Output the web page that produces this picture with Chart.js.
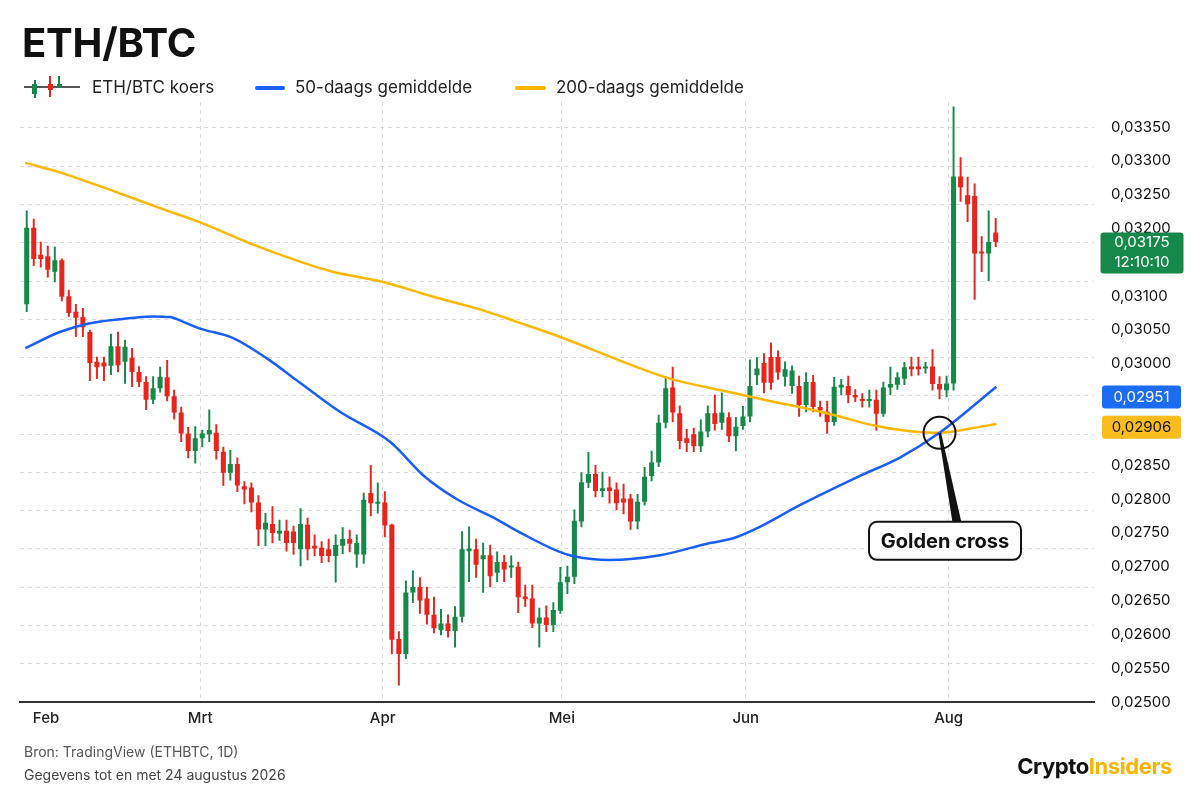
<!DOCTYPE html>
<html>
<head>
<meta charset="utf-8">
<script src="https://cdn.jsdelivr.net/npm/chart.js@4.4.1/dist/chart.umd.min.js"></script>
<style>
html,body{margin:0;padding:0;background:#fff;}
body{width:1200px;height:800px;position:relative;overflow:hidden;font-family:Inter,"Noto Sans",sans-serif;}
#c{position:absolute;left:0;top:0;}
.t{position:absolute;white-space:nowrap;line-height:1;}
.sw{position:absolute;}
</style>
</head>
<body>
<canvas id="c" width="1200" height="800"></canvas>

<div class="t" style="left:22px;top:23px;font-size:40px;font-weight:700;color:#111;letter-spacing:-0.2px;">ETH/BTC</div>

<!-- legend -->
<div class="sw" style="left:24px;top:86px;width:56px;height:2px;background:#555;"></div>
<div class="sw" style="left:34px;top:80px;width:1.5px;height:18px;background:#16894a;"></div>
<div class="sw" style="left:32.3px;top:84px;width:5px;height:10px;background:#16894a;"></div>
<div class="sw" style="left:49.3px;top:76px;width:1.5px;height:21px;background:#e8241c;"></div>
<div class="sw" style="left:47.5px;top:84px;width:5px;height:6px;background:#e8241c;"></div>
<div class="sw" style="left:58.3px;top:76px;width:1.5px;height:11px;background:#16894a;"></div>
<div class="sw" style="left:56.5px;top:84px;width:5px;height:4px;background:#16894a;"></div>
<div class="t" style="left:92px;top:79px;font-size:17px;color:#222;">ETH/BTC koers</div>
<div class="sw" style="left:255px;top:86px;width:30px;height:4px;border-radius:2px;background:#1a5ef5;"></div>
<div class="t" style="left:295px;top:79px;font-size:17px;color:#222;">50-daags gemiddelde</div>
<div class="sw" style="left:515px;top:86px;width:31px;height:4px;border-radius:2px;background:#fbb800;"></div>
<div class="t" style="left:556px;top:79px;font-size:17px;color:#222;">200-daags gemiddelde</div>

<!-- footer -->
<div class="t" style="left:24px;top:745px;font-size:14px;color:#555;">Bron: TradingView (ETHBTC, 1D)</div>
<div class="t" style="left:24px;top:768px;font-size:14px;color:#444;">Gegevens tot en met 24 augustus 2026</div>
<div class="t" style="right:28px;top:755px;font-size:22px;font-weight:700;letter-spacing:-0.4px;color:#111;">Crypto<span style="color:#f7b500;">Insiders</span></div>

<script>
// ---- data ----
const candleOpen  = [0.03088,0.03201,0.03161,0.03159,0.03136,0.03153,0.03100,0.03077,0.03069,0.03047,
0.03003,0.03002,0.02997,0.03026,0.03003,0.03009,0.02988,0.02973,0.02947,0.02964,
0.02980,0.02952,0.02928,0.02897,0.02871,0.02890,0.02896,0.02898,0.02870,0.02839,
0.02852,0.02819,0.02817,0.02795,0.02755,0.02763,0.02749,0.02753,0.02752,0.02726,
0.02762,0.02731,0.02728,0.02726,0.02716,0.02731,0.02741,0.02718,0.02718,0.02809,
0.02793,0.02795,0.02762,0.02593,0.02571,0.02662,0.02670,0.02653,0.02629,0.02606,
0.02616,0.02605,0.02626,0.02723,0.02726,0.02711,0.02717,0.02691,0.02707,0.02699,
0.02700,0.02656,0.02653,0.02616,0.02625,0.02614,0.02635,0.02677,0.02685,0.02767,
0.02824,0.02837,0.02812,0.02817,0.02814,0.02801,0.02801,0.02767,0.02796,0.02834,
0.02854,0.02913,0.02965,0.02927,0.02890,0.02896,0.02878,0.02900,0.02927,0.02913,
0.02921,0.02893,0.02908,0.02922,0.02983,0.03001,0.03010,0.03010,0.02981,0.02967,
0.02967,0.02939,0.02973,0.02936,0.02929,0.02914,0.02965,0.02967,0.02954,0.02948,
0.02945,0.02947,0.02926,0.02965,0.02969,0.02978,0.02996,0.02996,0.02993,0.02996,
0.02970,0.02961,0.02971,0.03277,0.03249,0.03248,0.03166,0.03163,0.03194];
const candleHigh  = [0.03226,0.03214,0.03180,0.03174,0.03173,0.03155,0.03109,0.03088,0.03082,0.03050,
0.03010,0.03010,0.03044,0.03047,0.03035,0.03023,0.02996,0.02981,0.02981,0.02995,
0.03005,0.02961,0.02936,0.02906,0.02907,0.02902,0.02932,0.02910,0.02877,0.02872,
0.02861,0.02826,0.02824,0.02805,0.02779,0.02789,0.02769,0.02769,0.02760,0.02786,
0.02772,0.02747,0.02737,0.02741,0.02747,0.02758,0.02754,0.02747,0.02809,0.02850,
0.02824,0.02811,0.02763,0.02604,0.02679,0.02694,0.02684,0.02670,0.02655,0.02637,
0.02629,0.02641,0.02752,0.02759,0.02741,0.02735,0.02732,0.02722,0.02717,0.02716,
0.02707,0.02673,0.02673,0.02639,0.02642,0.02647,0.02699,0.02701,0.02784,0.02839,
0.02869,0.02850,0.02840,0.02833,0.02824,0.02822,0.02807,0.02807,0.02847,0.02871,
0.02924,0.02981,0.02995,0.02938,0.02903,0.02905,0.02917,0.02938,0.02954,0.02957,
0.02928,0.02921,0.02937,0.03006,0.03009,0.03015,0.03031,0.03019,0.03003,0.02997,
0.02982,0.02987,0.02983,0.02945,0.02945,0.02980,0.02977,0.02982,0.02962,0.02956,
0.02961,0.02961,0.02973,0.02995,0.02987,0.03002,0.03010,0.03010,0.03002,0.03021,
0.02981,0.02982,0.03380,0.03305,0.03276,0.03266,0.03188,0.03226,0.03215];
const candleLow   = [0.03077,0.03145,0.03143,0.03128,0.03121,0.03093,0.03070,0.03040,0.03040,0.02975,
0.02978,0.02975,0.02984,0.02988,0.02971,0.02966,0.02966,0.02932,0.02941,0.02958,
0.02945,0.02918,0.02885,0.02861,0.02853,0.02877,0.02885,0.02859,0.02820,0.02828,
0.02811,0.02793,0.02781,0.02731,0.02731,0.02735,0.02739,0.02723,0.02718,0.02701,
0.02710,0.02716,0.02706,0.02707,0.02677,0.02719,0.02722,0.02699,0.02705,0.02775,
0.02779,0.02744,0.02571,0.02525,0.02564,0.02647,0.02631,0.02615,0.02602,0.02599,
0.02596,0.02581,0.02618,0.02678,0.02684,0.02662,0.02670,0.02678,0.02678,0.02684,
0.02632,0.02641,0.02610,0.02581,0.02604,0.02604,0.02631,0.02660,0.02675,0.02759,
0.02817,0.02803,0.02803,0.02794,0.02784,0.02778,0.02755,0.02756,0.02791,0.02827,
0.02848,0.02905,0.02914,0.02874,0.02870,0.02870,0.02870,0.02892,0.02902,0.02903,
0.02885,0.02871,0.02903,0.02914,0.02969,0.02957,0.02962,0.02977,0.02967,0.02956,
0.02922,0.02929,0.02929,0.02922,0.02897,0.02909,0.02954,0.02942,0.02944,0.02936,
0.02936,0.02902,0.02922,0.02954,0.02962,0.02969,0.02982,0.02983,0.02986,0.02961,
0.02948,0.02951,0.02961,0.03240,0.03210,0.03095,0.03136,0.03123,0.03173];
const candleClose = [0.03201,0.03155,0.03155,0.03139,0.03153,0.03099,0.03075,0.03068,0.03054,0.03001,
0.02995,0.02996,0.03026,0.02998,0.03025,0.02988,0.02973,0.02947,0.02964,0.02981,
0.02952,0.02928,0.02897,0.02871,0.02890,0.02897,0.02902,0.02871,0.02839,0.02852,
0.02820,0.02814,0.02795,0.02755,0.02765,0.02750,0.02753,0.02735,0.02735,0.02763,
0.02726,0.02727,0.02716,0.02716,0.02732,0.02741,0.02734,0.02735,0.02799,0.02794,
0.02796,0.02761,0.02592,0.02571,0.02662,0.02670,0.02650,0.02629,0.02609,0.02616,
0.02605,0.02626,0.02726,0.02727,0.02703,0.02717,0.02686,0.02707,0.02696,0.02701,
0.02655,0.02652,0.02616,0.02625,0.02614,0.02636,0.02677,0.02685,0.02768,0.02825,
0.02837,0.02812,0.02816,0.02812,0.02794,0.02795,0.02767,0.02796,0.02833,0.02854,
0.02913,0.02964,0.02928,0.02886,0.02883,0.02878,0.02900,0.02927,0.02911,0.02928,
0.02893,0.02907,0.02922,0.02967,0.02993,0.02972,0.02972,0.02987,0.02992,0.02990,
0.02939,0.02973,0.02936,0.02931,0.02914,0.02966,0.02969,0.02954,0.02950,0.02945,
0.02948,0.02926,0.02965,0.02970,0.02980,0.02995,0.02992,0.02992,0.02996,0.02970,
0.02962,0.02971,0.03277,0.03261,0.03236,0.03163,0.03163,0.03180,0.03180];

const ma50X  = [-0.2,4.7,9.0,13.3,18.0,20.4,22.3,24.7,29.4,34.2,38.4,44.6,51.7,56.7,61.4,66.2,70.9,75.2,78.1,83.0,90.2,97.3,100.6,104.4,110.1,118.6,124.3,130.0,138.1];
const ma50Y  = [0.03023,0.03047,0.03060,0.03066,0.03070,0.03069,0.03062,0.03052,0.03038,0.03008,0.02976,0.02929,0.02885,0.02833,0.02799,0.02774,0.02747,0.02725,0.02715,0.02710,0.02717,0.02735,0.02742,0.02759,0.02791,0.02834,0.02861,0.02898,0.02966];
const ma200X = [-0.2,4.7,11.9,19.0,24.7,31.8,38.9,43.6,50.8,57.9,65.0,69.8,75.9,85.4,91.6,99.7,106.3,111.0,115.8,120.5,125.3,130.0,134.8,138.1];
const ma200Y = [0.03297,0.03283,0.03257,0.03230,0.03209,0.03178,0.03151,0.03136,0.03121,0.03099,0.03079,0.03062,0.03040,0.03001,0.02978,0.02959,0.02944,0.02934,0.02922,0.02909,0.02901,0.02898,0.02905,0.02911];

const xTickLabels = ['Feb','Mrt','Apr','Mei','Jun','Aug'];
const xTickPos    = [2.75,24.7,50.7,76.2,102.4,131.3];

const priceTagValues = [0.03175, 0.02951, 0.02906];
const priceTagLines  = [['0,03175','12:10:10'], ['0,02951'], ['0,02906']];

const goldenCrossX = 130.0;
const goldenCrossY = 0.02898;
const goldenCrossLabel = 'Golden cross';

// ---- styles ----
const GREEN = '#16894a', RED = '#e8241c';
const BLUE = '#1a5ef5', YELLOW = '#fbb800';
const GRID = '#d9d9d9';
const tagStyles = [
  {bg:'#16894a', fg:'#ffffff'},
  {bg:'#1b6cf2', fg:'#ffffff'},
  {bg:'#fbbd1e', fg:'#111111'}
];

Chart.defaults.font.family = 'Inter, "Noto Sans", sans-serif';

const idx = candleOpen.map((_, i) => i);
const candleColors = idx.map(i => candleClose[i] >= candleOpen[i] ? GREEN : RED);

function rrect(ctx, x, y, w, h, r) {
  ctx.beginPath();
  ctx.moveTo(x + r, y);
  ctx.lineTo(x + w - r, y);
  ctx.arcTo(x + w, y, x + w, y + r, r);
  ctx.lineTo(x + w, y + h - r);
  ctx.arcTo(x + w, y + h, x + w - r, y + h, r);
  ctx.lineTo(x + r, y + h);
  ctx.arcTo(x, y + h, x, y + h - r, r);
  ctx.lineTo(x, y + r);
  ctx.arcTo(x, y, x + r, y, r);
  ctx.closePath();
}

const overlay = {
  id: 'overlay',
  afterDatasetsDraw(chart) {
    const {ctx, scales: {x, y}} = chart;
    const cx = x.getPixelForValue(goldenCrossX);
    const cy = y.getPixelForValue(goldenCrossY);
    ctx.save();
    ctx.fillStyle = '#111';
    ctx.beginPath();
    ctx.moveTo(cx - 1, cy + 1);
    ctx.lineTo(cx + 1.5, cy);
    ctx.lineTo(cx + 22, cy + 90);
    ctx.lineTo(cx + 13, cy + 90);
    ctx.closePath();
    ctx.fill();
    ctx.lineWidth = 2;
    ctx.strokeStyle = '#111';
    ctx.beginPath();
    ctx.arc(cx, cy, 16, 0, Math.PI * 2);
    ctx.stroke();
    rrect(ctx, cx - 70.5, cy + 89, 152, 38, 8);
    ctx.fillStyle = '#fff';
    ctx.fill();
    ctx.stroke();
    ctx.fillStyle = '#111';
    ctx.font = '700 20px Inter, "Noto Sans", sans-serif';
    ctx.textAlign = 'center';
    ctx.textBaseline = 'middle';
    ctx.fillText(goldenCrossLabel, cx + 5.5, cy + 109);
    ctx.restore();
  },
  afterDraw(chart) {
    const {ctx, scales: {y}} = chart;
    ctx.save();
    ctx.font = '15px Inter, "Noto Sans", sans-serif';
    ctx.textAlign = 'center';
    ctx.textBaseline = 'middle';
    priceTagValues.forEach((v, i) => {
      const py = y.getPixelForValue(v);
      const lines = priceTagLines[i];
      const st = tagStyles[i];
      if (lines.length > 1) {
        rrect(ctx, 1100.5, py - 13, 83, 41, 3);
        ctx.fillStyle = st.bg; ctx.fill();
        ctx.fillStyle = st.fg;
        ctx.fillText(lines[0], 1142, py - 2.5);
        ctx.fillText(lines[1], 1142, py + 17.5);
      } else {
        rrect(ctx, 1102, py - 11.5, 79, 23, 3);
        ctx.fillStyle = st.bg; ctx.fill();
        ctx.fillStyle = st.fg;
        ctx.fillText(lines[0], 1141.5, py + 0.5);
      }
    });
    ctx.restore();
  }
};

new Chart(document.getElementById('c'), {
  type: 'bar',
  data: {
    datasets: [
      {
        type: 'line', label: '50-daags gemiddelde',
        data: ma50X.map((xv, i) => ({x: xv, y: ma50Y[i]})),
        borderColor: BLUE, borderWidth: 2.5, pointRadius: 0,
        cubicInterpolationMode: 'monotone', order: 0, xAxisID: 'x', yAxisID: 'y'
      },
      {
        type: 'line', label: '200-daags gemiddelde',
        data: ma200X.map((xv, i) => ({x: xv, y: ma200Y[i]})),
        borderColor: YELLOW, borderWidth: 2.5, pointRadius: 0,
        cubicInterpolationMode: 'monotone', order: 1, xAxisID: 'x', yAxisID: 'y'
      },
      {
        type: 'bar', label: 'ETH/BTC koers',
        data: idx.map(i => ({x: i, y: [candleOpen[i], candleClose[i]]})),
        backgroundColor: candleColors, borderWidth: 0,
        barPercentage: 0.72, categoryPercentage: 1, grouped: false,
        minBarLength: 2, order: 2, xAxisID: 'x', yAxisID: 'y'
      },
      {
        type: 'bar', label: 'wick',
        data: idx.map(i => ({x: i, y: [candleLow[i], candleHigh[i]]})),
        backgroundColor: candleColors, borderWidth: 0,
        barThickness: 1.3, grouped: false, order: 3, xAxisID: 'x', yAxisID: 'y'
      }
    ]
  },
  options: {
    responsive: false,
    animation: false,
    events: [],
    layout: {padding: {left: 19.7, top: 102, right: 0, bottom: 68}},
    plugins: {legend: {display: false}, tooltip: {enabled: false}, title: {display: false}},
    scales: {
      x: {
        type: 'linear', min: -1, max: 152, offset: false,
        afterBuildTicks: s => { s.ticks = xTickPos.map(v => ({value: v})); },
        afterFit: s => { s.height = 30; },
        ticks: {
          autoSkip: false, maxRotation: 0, padding: 7,
          font: {size: 15, weight: '500'}, color: '#222',
          callback: (v, i) => xTickLabels[i]
        },
        grid: {offset: false, color: c => (c.index === 0 ? 'rgba(0,0,0,0)' : GRID), lineWidth: 1, drawTicks: false},
        border: {display: true, color: '#333', width: 2, dash: [4, 4]}
      },
      y: {
        type: 'linear', position: 'right', min: 0.025, max: 0.03387,
        afterFit: s => { s.width = 106; },
        ticks: {
          stepSize: 0.0005, includeBounds: false, padding: 17,
          font: {size: 15}, color: '#111',
          callback: v => v.toFixed(5).replace('.', ',')
        },
        grid: {display: false, drawTicks: false},
        border: {display: false}
      },
      g: {
        type: 'linear', position: 'left', min: 0, max: 15.678,
        afterBuildTicks: s => { s.ticks = Array.from({length: 15}, (_, k) => ({value: k + 1})); },
        afterFit: s => { s.width = 0; },
        ticks: {display: false},
        grid: {color: GRID, lineWidth: 1, drawTicks: false},
        border: {display: false, dash: [4, 4]}
      }
    }
  },
  plugins: [overlay]
});
</script>
</body>
</html>
